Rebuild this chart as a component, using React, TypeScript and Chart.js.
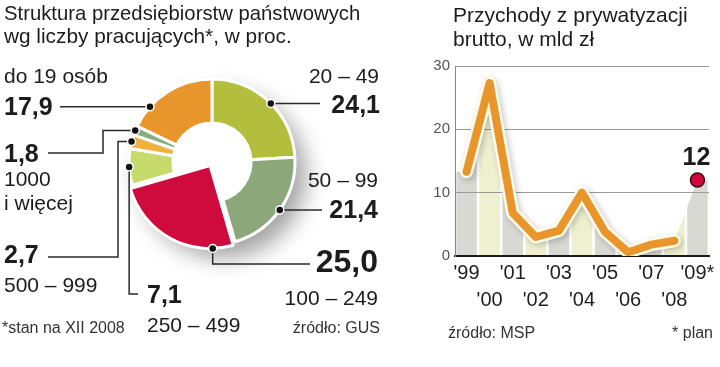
import React, { useEffect, useRef } from 'react';
import { Chart, registerables } from 'chart.js';

Chart.register(...registerables);

// ---------------- data ----------------
const sizeGroups = ['20 – 49', '50 – 99', '100 – 249', '250 – 499', '500 – 999', '1000\ni więcej', 'do 19 osób'];
const sharePct = [24.1, 21.4, 25.0, 7.1, 2.7, 1.8, 17.9];
const sliceColors = ['#B4BE3D', '#8CA87A', '#CF0A3C', '#C6DB6C', '#F1B13D', '#86AE80', '#E8962B'];

const years = ["'99", "'00", "'01", "'02", "'03", "'04", "'05", "'06", "'07", "'08", "'09*"];
const revenue = [13.3, 27.3, 6.8, 3.0, 4.0, 10.0, 3.8, 0.6, 1.8, 2.4];
const planValue = 12;
const yTickValues = [0, 10, 20, 30];

// ---------------- style / layout ----------------
const FONT = '"Liberation Sans", Arial, sans-serif';
const HIGHLIGHT = 2;
const TEXT = '#1c1c1c';

type Pt = { x: number; y: number };
type Spec = {
  frac: number;
  value: { x: number; y: number; align: CanvasTextAlign; size: number };
  name: { x: number; y: number; align: CanvasTextAlign };
  route: (d: Pt) => [number, number][];
};

const donutLayout: Spec[] = [
  { frac: 0.52, value: { x: 380, y: 113, align: 'right', size: 25 }, name: { x: 379, y: 83, align: 'right' }, route: (d) => [[320, d.y]] },
  { frac: 0.5, value: { x: 378, y: 218, align: 'right', size: 25 }, name: { x: 378, y: 187, align: 'right' }, route: (d) => [[322, d.y]] },
  { frac: 0.16, value: { x: 378, y: 272, align: 'right', size: 32 }, name: { x: 378, y: 305, align: 'right' }, route: (d) => [[d.x, 264], [310, 264]] },
  { frac: 0.5, value: { x: 147, y: 303, align: 'left', size: 25 }, name: { x: 147, y: 332, align: 'left' }, route: (d) => [[d.x, 294], [138, 294]] },
  { frac: 0.5, value: { x: 4, y: 263, align: 'left', size: 25 }, name: { x: 4, y: 292, align: 'left' }, route: (d) => [[118, d.y], [118, 257], [48, 257]] },
  { frac: 0.5, value: { x: 4, y: 162, align: 'left', size: 25 }, name: { x: 4, y: 186, align: 'left' }, route: (d) => [[103, d.y], [103, 153], [48, 153]] },
  { frac: 0.25, value: { x: 4, y: 115, align: 'left', size: 25 }, name: { x: 4, y: 83, align: 'left' }, route: (d) => [[60, d.y]] },
];

const fmt = (v: number) => v.toFixed(1).replace('.', ',');

const donutDecor = {
  id: 'donutDecor',
  afterDatasetUpdate(chart: any, args: any) {
    const el = args.meta.data[HIGHLIGHT];
    if (el) el.innerRadius = 0;
  },
  beforeDatasetsDraw(chart: any) {
    const arc = chart.getDatasetMeta(0).data[0];
    if (!arc) return;
    const { x, y, outerRadius } = arc;
    const ctx: CanvasRenderingContext2D = chart.ctx;
    ctx.save();
    ctx.shadowColor = 'rgba(0,0,0,0.36)';
    ctx.shadowBlur = 22;
    ctx.shadowOffsetX = 2000 + 11;
    ctx.shadowOffsetY = 13;
    ctx.fillStyle = '#fff';
    ctx.beginPath();
    ctx.arc(x - 2000, y, outerRadius, 0, Math.PI * 2);
    ctx.fill();
    ctx.restore();
    ctx.save();
    ctx.fillStyle = '#fff';
    ctx.beginPath();
    ctx.arc(x, y, outerRadius + 1, 0, Math.PI * 2);
    ctx.fill();
    ctx.restore();
  },
  afterDraw(chart: any) {
    const ctx: CanvasRenderingContext2D = chart.ctx;
    const meta = chart.getDatasetMeta(0);
    ctx.save();
    ctx.textBaseline = 'alphabetic';
    ctx.fillStyle = TEXT;
    ctx.textAlign = 'left';
    ctx.font = `20.3px ${FONT}`;
    ctx.fillText('Struktura przedsiębiorstw państwowych', 4, 20);
    ctx.font = `20.8px ${FONT}`;
    ctx.fillText('wg liczby pracujących*, w proc.', 4, 43);

    donutLayout.forEach((spec, i) => {
      const el = meta.data[i];
      if (!el) return;
      const off = ((el.options && el.options.offset) || 0) / 4;
      const mid = (el.startAngle + el.endAngle) / 2;
      const cx = el.x + Math.cos(mid) * off;
      const cy = el.y + Math.sin(mid) * off;
      const a = el.startAngle + (el.endAngle - el.startAngle) * spec.frac;
      const r = el.outerRadius;
      const d = { x: cx + Math.cos(a) * r, y: cy + Math.sin(a) * r };
      ctx.strokeStyle = '#2a2a2a';
      ctx.lineWidth = 1.5;
      ctx.beginPath();
      ctx.moveTo(d.x, d.y);
      spec.route(d).forEach(([px, py]) => ctx.lineTo(px, py));
      ctx.stroke();
      ctx.beginPath();
      ctx.arc(d.x, d.y, 4, 0, Math.PI * 2);
      ctx.fillStyle = '#111';
      ctx.fill();
      ctx.strokeStyle = '#fff';
      ctx.lineWidth = 1.5;
      ctx.stroke();

      ctx.fillStyle = TEXT;
      ctx.font = `bold ${spec.value.size}px ${FONT}`;
      ctx.textAlign = spec.value.align;
      ctx.fillText(fmt(sharePct[i]), spec.value.x, spec.value.y);
      ctx.font = `21px ${FONT}`;
      ctx.textAlign = spec.name.align;
      sizeGroups[i].split('\n').forEach((line, j) => ctx.fillText(line, spec.name.x, spec.name.y + j * 24));
    });

    ctx.font = `16px ${FONT}`;
    ctx.fillStyle = '#333';
    ctx.textAlign = 'left';
    ctx.fillText('*stan na XII 2008', 2, 333);
    ctx.textAlign = 'right';
    ctx.fillText('źródło: GUS', 380, 333);
    ctx.restore();
  },
};

const lineDecor = {
  id: 'lineDecor',
  beforeDraw(chart: any) {
    const ctx: CanvasRenderingContext2D = chart.ctx;
    const xs = chart.scales.x;
    const ys = chart.scales.y;
    const area = chart.chartArea;
    if (!xs || !ys || !area) return;
    const vals = [...revenue, planValue];
    const y0 = ys.getPixelForValue(0);
    ctx.save();
    ctx.beginPath();
    ctx.moveTo(area.left, y0);
    ctx.lineTo(area.left, ys.getPixelForValue(vals[0]));
    vals.forEach((v, i) => ctx.lineTo(xs.getPixelForValue(i), ys.getPixelForValue(v)));
    ctx.lineTo(area.right, ys.getPixelForValue(vals[vals.length - 1]));
    ctx.lineTo(area.right, y0);
    ctx.closePath();
    ctx.clip();
    const w = (area.right - area.left) / years.length;
    years.forEach((_, i) => {
      const cx = xs.getPixelForValue(i);
      ctx.fillStyle = i % 2 === 0 ? '#D9D9D3' : '#EEF0D0';
      ctx.fillRect(cx - w / 2 + 1.3, area.top, w - 2.6, y0 - area.top);
    });
    ctx.restore();
  },
  beforeDatasetDraw(chart: any, args: any) {
    if (args.index === 0) {
      const ctx = chart.ctx;
      ctx.save();
      ctx.shadowColor = 'rgba(0,0,0,0.22)';
      ctx.shadowBlur = 6;
      ctx.shadowOffsetX = 2;
      ctx.shadowOffsetY = 2;
    }
  },
  afterDatasetDraw(chart: any, args: any) {
    if (args.index === 0) chart.ctx.restore();
  },
  afterDraw(chart: any) {
    const ctx: CanvasRenderingContext2D = chart.ctx;
    ctx.save();
    ctx.textBaseline = 'alphabetic';
    ctx.fillStyle = TEXT;
    ctx.textAlign = 'left';
    ctx.font = `21px ${FONT}`;
    ctx.fillText('Przychody z prywatyzacji', 63, 22);
    ctx.fillText('brutto, w mld zł', 63, 46);

    const planMeta = chart.getDatasetMeta(2);
    const pt = planMeta.data[years.length - 1];
    if (pt) {
      ctx.font = `bold 25px ${FONT}`;
      ctx.textAlign = 'center';
      ctx.fillText(String(planValue), pt.x - 1, pt.y - 15);
    }

    ctx.font = `16px ${FONT}`;
    ctx.fillStyle = '#333';
    ctx.textAlign = 'left';
    ctx.fillText('źródło: MSP', 58, 338);
    ctx.textAlign = 'right';
    ctx.fillText('* plan', 323, 338);
    ctx.restore();
  },
};

export default function App() {
  const leftRef = useRef<HTMLCanvasElement>(null);
  const rightRef = useRef<HTMLCanvasElement>(null);

  useEffect(() => {
    document.body.style.margin = '0';
    const donut = new Chart(leftRef.current as HTMLCanvasElement, {
      type: 'doughnut',
      data: {
        labels: sizeGroups,
        datasets: [
          {
            data: sharePct,
            backgroundColor: sliceColors,
            borderColor: '#ffffff',
            borderWidth: 3,
            offset: sharePct.map((_, i) => (i === HIGHLIGHT ? 16 : 0)),
          } as any,
        ],
      },
      options: {
        animation: false,
        responsive: false,
        events: [],
        radius: 83,
        cutout: '47%',
        layout: { padding: { left: 112, top: 62, right: 78, bottom: 105 } },
        plugins: { legend: { display: false }, tooltip: { enabled: false } },
      } as any,
      plugins: [donutDecor as any],
    });

    const line = new Chart(rightRef.current as HTMLCanvasElement, {
      type: 'line',
      data: {
        labels: years,
        datasets: [
          {
            data: [...revenue, null],
            borderColor: '#FFFBEA',
            borderWidth: 13,
            pointRadius: 0,
            borderCapStyle: 'round',
            borderJoinStyle: 'round',
            order: 3,
          },
          {
            data: [...revenue, null],
            borderColor: '#E8952B',
            borderWidth: 8,
            pointRadius: 0,
            borderCapStyle: 'round',
            borderJoinStyle: 'round',
            order: 2,
          },
          {
            data: years.map((_, i) => (i === years.length - 1 ? planValue : null)),
            showLine: false,
            pointRadius: 7,
            pointBackgroundColor: '#D0063C',
            pointBorderColor: '#3B0A12',
            pointBorderWidth: 1.5,
            order: 1,
          },
        ] as any,
      },
      options: {
        animation: false,
        responsive: false,
        events: [],
        layout: { padding: { left: 5, right: 11, top: 66, bottom: 51 } },
        plugins: { legend: { display: false }, tooltip: { enabled: false } },
        scales: {
          x: {
            offset: true,
            grid: { display: false, drawTicks: false },
            border: { display: true, color: '#1a1a1a', width: 2 },
            ticks: {
              autoSkip: false,
              maxRotation: 0,
              padding: 4,
              color: '#1e1e1e',
              font: { family: FONT, size: 20, lineHeight: 1.35 },
              callback: (_v: any, i: number) => (i % 2 === 0 ? [years[i], ''] : ['', years[i]]),
            },
            afterFit: (s: any) => {
              s.height = 60;
            },
          },
          y: {
            min: 0,
            max: 30,
            afterBuildTicks: (s: any) => {
              s.ticks = yTickValues.map((v) => ({ value: v }));
            },
            ticks: { padding: 5, color: '#555', font: { family: FONT, size: 15 } },
            grid: { color: '#9a9a9a', lineWidth: 1, drawTicks: false },
            border: { display: true, color: '#888', width: 1 },
            afterFit: (s: any) => {
              s.width = 60;
            },
          },
        },
      } as any,
      plugins: [lineDecor as any],
    });

    return () => {
      donut.destroy();
      line.destroy();
    };
  }, []);

  return (
    <div style={{ position: 'relative', width: 720, height: 367, background: '#fff', overflow: 'hidden' }}>
      <canvas ref={leftRef} width={390} height={367} style={{ position: 'absolute', left: 0, top: 0, width: 390, height: 367 }} />
      <canvas ref={rightRef} width={330} height={367} style={{ position: 'absolute', left: 390, top: 0, width: 330, height: 367 }} />
    </div>
  );
}
